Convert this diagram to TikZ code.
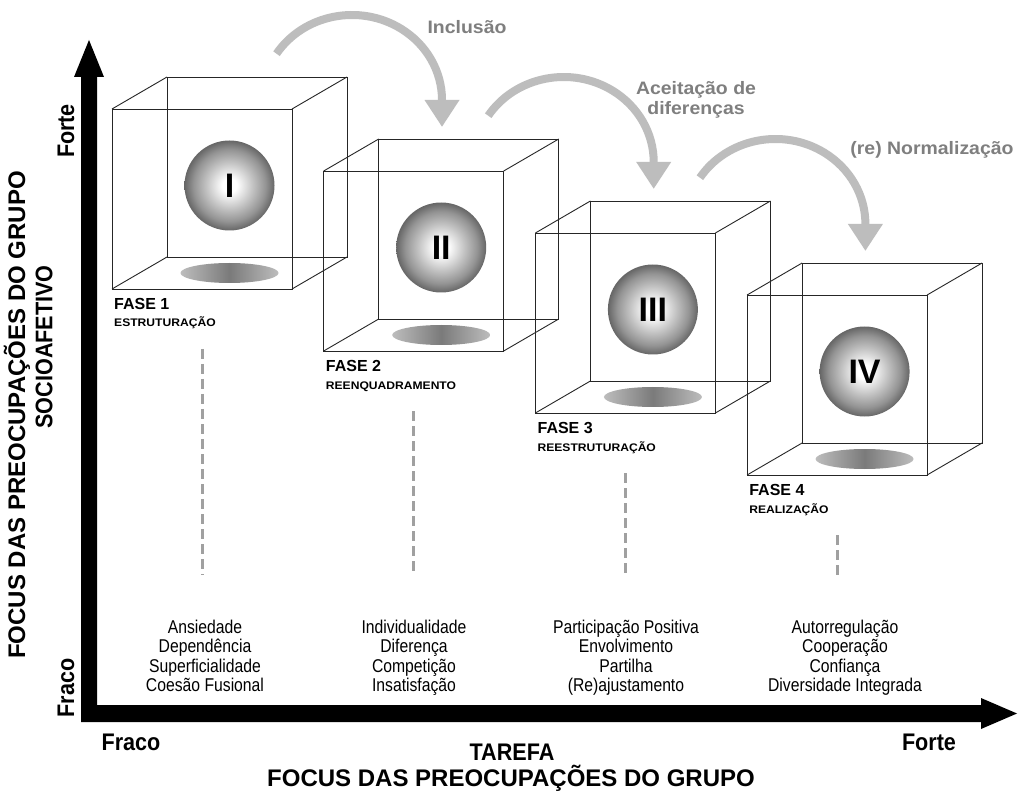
\documentclass[tikz,border=0pt]{standalone}
\usepackage{fontspec}
\setmainfont{Liberation Sans}
\newfontfamily\narrowfont[FakeStretch=0.85]{Liberation Sans}
\newfontfamily\titlefont[FakeStretch=0.9]{Liberation Sans}
\newfontfamily\widefont[FakeStretch=1.1]{Liberation Sans}
\newfontfamily\gwidefont[FakeStretch=1.08]{Liberation Sans}
\usetikzlibrary{arrows.meta}
\definecolor{arrowgray}{HTML}{BDBDBD}
\definecolor{labelgray}{HTML}{7F7F7F}
\definecolor{dashgray}{HTML}{A0A0A0}
\definecolor{edgecol}{HTML}{262626}
\pgfdeclareradialshading{sphereshade}{\pgfpoint{0bp}{0bp}}{color(0bp)=(white); color(4bp)=(white); color(13bp)=(black!24); color(20bp)=(black!42); color(25bp)=(black!60); color(50bp)=(black!60)}
\begin{document}
\begin{tikzpicture}[x=1pt,y=-1pt,
  cubeedge/.style={draw=edgecol, line width=0.9pt},
  shadowell/.style={left color=black!26, right color=black!26, middle color=black!52},
  fasel/.style={anchor=base west, inner sep=0, font=\bfseries\fontsize{16}{18}\selectfont},
  subl/.style={anchor=base west, inner sep=0, font=\widefont\bfseries\fontsize{11}{12}\selectfont},
  listtext/.style={anchor=north, inner sep=0, align=center, font=\narrowfont\fontsize{18.5}{19.3}\selectfont},
  axtitle/.style={font=\titlefont\bfseries\fontsize{24}{26}\selectfont, inner sep=0},
  bigtitle/.style={font=\bfseries\fontsize{24}{26}\selectfont, inner sep=0},
  arrowlabel/.style={text=labelgray, font=\gwidefont\bfseries\fontsize{18}{20}\selectfont, align=center, inner sep=0},
  numeral/.style={font=\bfseries\fontsize{34}{34}\selectfont, inner sep=0},
  garrow/.style={draw=arrowgray, line width=8pt, -{Triangle[width=33pt,length=27pt]}},
  dashline/.style={draw=dashgray, line width=3pt, dash pattern=on 10pt off 5pt}
]
\useasboundingbox (0,0) rectangle (1026,794);
\fill[white] (0,0) rectangle (1026,794);

% axes
\fill[black] (81,722) -- (81,77) -- (74,77) -- (89,40) -- (104,77) -- (97,77) -- (97,705)
  -- (981,705) -- (981,698) -- (1017,713.5) -- (981,729) -- (981,722) -- cycle;

% cubes
\foreach \i/\rn/\fs/\sb in {0/I/1/ESTRUTURAÇÃO,1/II/2/REENQUADRAMENTO,2/III/3/REESTRUTURAÇÃO,3/IV/4/REALIZAÇÃO}{
  \pgfmathsetmacro\fx{112+211.7*\i}
  \pgfmathsetmacro\fy{109+62*\i}
  \begin{scope}[shift={(\fx,\fy)}]
    \draw[cubeedge] (0,0) rectangle (180,180);
    \draw[cubeedge] (55,-32) rectangle (235,148);
    \draw[cubeedge] (0,0)--(55,-32) (180,0)--(235,-32) (0,180)--(55,148) (180,180)--(235,148);
    \shade[shading=sphereshade] (117.5,76.5) circle (45);
    \shade[shadowell] (117.5,164) ellipse [x radius=49, y radius=10];
    \node[numeral] (num\i) at (117.5,76.5) {\rn};
    \node[fasel] (fase\i) at (2,200.5) {FASE \fs};
    \node[subl] (sub\i) at (2,218) {\sb};
    \coordinate (dtop\i) at (90,240);
  \end{scope}
  \pgfmathsetmacro\dx{202+211.7*\i}
  \coordinate (dbot\i) at (\dx,575);
  \draw[dashline] (dtop\i) -- (dbot\i);
}

% lists
\node[listtext] (list0) at (205,620) {Ansiedade\\Dependência\\Superficialidade\\Coesão Fusional};
\node[listtext] (list1) at (414,620) {Individualidade\\Diferença\\Competição\\Insatisfação};
\node[listtext] (list2) at (626,620) {Participação Positiva\\Envolvimento\\Partilha\\(Re)ajustamento};
\node[listtext] (list3) at (845,620) {Autorregulação\\Cooperação\\Confiança\\Diversidade Integrada};

% curved arrows
\foreach \i in {0,1,2}{
  \pgfmathsetmacro\cx{352+211.7*\i}
  \pgfmathsetmacro\cy{100+62*\i}
  \coordinate (ac\i) at (\cx,\cy);
  \draw[garrow] (ac\i) ++(-147:90 and 85) arc[start angle=-147, end angle=0, x radius=90, y radius=85] -- ++(0,27);
}
\node[arrowlabel] (lab0) at (467,27) {Inclusão};
\node[arrowlabel] (lab1) at (696,100) {Aceitação de\\diferenças};
\node[arrowlabel] (lab2) at (932,150) {(re) Normalização};

% axis titles
\node[bigtitle, rotate=90] (yt1) at (17,415) {FOCUS DAS PREOCUPAÇÕES DO GRUPO};
\node[axtitle, rotate=90] (yt2) at (44,347) {SOCIOAFETIVO};
\node[axtitle, rotate=90] (yforte) at (66,131) {Forte};
\node[axtitle, rotate=90] (yfraco) at (66,688) {Fraco};
\node[axtitle] (xfraco) at (131,742) {Fraco};
\node[axtitle] (xforte) at (929,742) {Forte};
\node[axtitle] (xt1) at (512,752) {TAREFA};
\node[bigtitle] (xt2) at (511,778) {FOCUS DAS PREOCUPAÇÕES DO GRUPO};
\end{tikzpicture}
\end{document}
